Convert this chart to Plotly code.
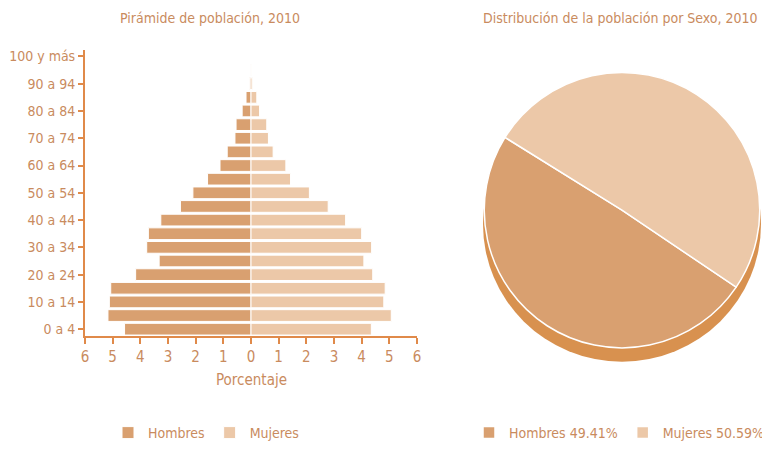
import plotly.graph_objects as go

# ---- data ----
age_groups = ["0 a 4", "5 a 9", "10 a 14", "15 a 19", "20 a 24", "25 a 29", "30 a 34",
              "35 a 39", "40 a 44", "45 a 49", "50 a 54", "55 a 59", "60 a 64", "65 a 69",
              "70 a 74", "75 a 79", "80 a 84", "85 a 89", "90 a 94", "95 a 99", "100 y más"]
hombres = [4.57, 5.17, 5.12, 5.07, 4.17, 3.32, 3.77, 3.71, 3.26, 2.55, 2.10, 1.57,
           1.12, 0.86, 0.58, 0.54, 0.32, 0.18, 0.05, 0.01, 0.0]
mujeres = [4.35, 5.07, 4.80, 4.85, 4.40, 4.08, 4.36, 4.00, 3.42, 2.79, 2.11, 1.43,
           1.26, 0.80, 0.63, 0.57, 0.31, 0.21, 0.06, 0.01, 0.0]
x_ticks = [-6, -5, -4, -3, -2, -1, 0, 1, 2, 3, 4, 5, 6]
x_ticktext = ["6", "5", "4", "3", "2", "1", "0", "1", "2", "3", "4", "5", "6"]
sexo = ["Hombres", "Mujeres"]
sexo_pct = [49.41, 50.59]

# ---- style ----
C_H = "#D9A070"
C_M = "#ECC8A8"
C_AXIS = "#E08A4A"
C_TEXT = "#C98B5E"
FONT = "Liberation Sans Narrow, DejaVu Sans Condensed, Roboto, sans-serif"
OFF = 8  # page body margin offset
W, H = 770 - OFF, 449 - OFF

def px_x(v):
    return (v - OFF) / W

def px_y(v):
    return 1 - (v - OFF) / H

fig = go.Figure()

fig.add_trace(go.Bar(
    y=age_groups, x=[-v for v in hombres], orientation="h", name="Hombres",
    marker=dict(color=C_H, line=dict(color="white", width=1)), legend="legend",
))
fig.add_trace(go.Bar(
    y=age_groups, x=mujeres, orientation="h", name="Mujeres",
    marker=dict(color=C_M, line=dict(color="white", width=1)), legend="legend",
))

pie_labels = [f"{s} {p:.2f}%" for s, p in zip(sexo, sexo_pct)]
cx, cy, d = 622, 212, 278
fig.add_trace(go.Pie(
    labels=pie_labels, values=sexo_pct, sort=False, direction="clockwise", rotation=124,
    marker=dict(colors=[C_H, C_M], line=dict(color="white", width=1.5)),
    textinfo="none", hoverinfo="label+percent",
    domain=dict(x=[px_x(cx - d / 2), px_x(cx + d / 2)], y=[px_y(cy + d / 2), px_y(cy - d / 2)]),
    legend="legend2", showlegend=True,
))

fig.update_layout(
    width=W, height=H,
    margin=dict(l=0, r=0, t=0, b=0),
    paper_bgcolor="white", plot_bgcolor="white",
    barmode="relative", bargap=0.14,
    font=dict(family=FONT, color=C_TEXT, size=14),
    xaxis=dict(
        domain=[px_x(85), px_x(417)], range=[-6, 6], tickvals=x_ticks, ticktext=x_ticktext,
        showline=True, linecolor=C_AXIS, linewidth=2, ticks="outside", tickcolor=C_AXIS,
        ticklen=6, tickwidth=1.5, showgrid=False, zeroline=False, automargin=False,
        tickfont=dict(size=15, color=C_TEXT, family=FONT),
    ),
    yaxis=dict(
        domain=[px_y(339), px_y(50)], type="category", range=[-0.5, 20.5],
        tickvals=age_groups[::2], ticktext=age_groups[::2],
        showline=True, linecolor=C_AXIS, linewidth=2, ticks="outside", tickcolor=C_AXIS,
        ticklen=5, tickwidth=1.5, showgrid=False, zeroline=False, automargin=False,
        tickfont=dict(size=14, color=C_TEXT, family=FONT),
    ),
    legend=dict(
        orientation="h", x=px_x(108), y=px_y(437), xanchor="left", yanchor="middle",
        font=dict(size=14, color=C_TEXT, family=FONT), itemwidth=30, traceorder="normal",
    ),
    legend2=dict(
        orientation="h", x=px_x(770), y=px_y(437), xanchor="right", yanchor="middle",
        font=dict(size=14, color=C_TEXT, family=FONT), itemwidth=30, traceorder="normal",
    ),
    shapes=[dict(
        type="circle", xref="paper", yref="paper", layer="below",
        x0=px_x(cx - d / 2), x1=px_x(cx + d / 2),
        y0=px_y(cy + 14 + d / 2), y1=px_y(cy + 14 - d / 2),
        fillcolor="#D8914F", line=dict(width=0),
    )],
    annotations=[
        dict(text="Pirámide de población, 2010", xref="paper", yref="paper",
             x=px_x(210), y=px_y(18), xanchor="center", yanchor="middle", showarrow=False,
             font=dict(size=14, color=C_TEXT)),
        dict(text="Distribución de la población por Sexo, 2010", xref="paper", yref="paper",
             x=px_x(620), y=px_y(18), xanchor="center", yanchor="middle", showarrow=False,
             font=dict(size=14, color=C_TEXT)),
        dict(text="Porcentaje", xref="x", yref="paper", x=0, y=px_y(383), xanchor="center",
             yanchor="middle", showarrow=False, font=dict(size=15, color=C_TEXT)),
    ],
)

fig.write_html("out.html")
